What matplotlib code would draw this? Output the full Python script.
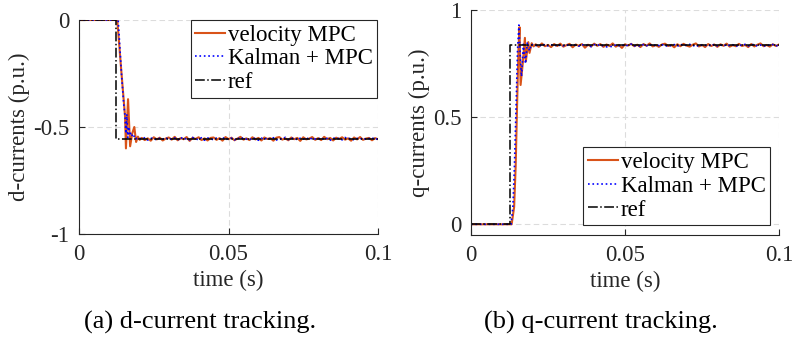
import numpy as np
import matplotlib
matplotlib.use("Agg")
import matplotlib.pyplot as plt

plt.rcParams['font.family'] = ['Liberation Serif', 'DejaVu Serif']
plt.rcParams['axes.unicode_minus'] = False

# ---------------- data ----------------
labels = ["velocity MPC", "Kalman + MPC", "ref"]

# d-current transient
t_dv = [0, 0.0128, 0.0141, 0.0154, 0.0157, 0.0164, 0.0171, 0.0178, 0.0185, 0.0191, 0.0197, 0.0203]
dv = [0, 0, -0.23, -0.45, -0.60, -0.37, -0.59, -0.53, -0.50, -0.57, -0.545, -0.56]
t_dk = [0, 0.0131, 0.0142, 0.0150, 0.0154, 0.0157, 0.0160, 0.0163, 0.0166, 0.0170, 0.0174, 0.0180, 0.0186, 0.0193, 0.0200]
dk = [0, 0, -0.25, -0.40, -0.45, -0.53, -0.44, -0.55, -0.50, -0.54, -0.525, -0.55, -0.54, -0.555, -0.55]
t_dref = [0, 0.0125, 0.0125, 0.1]
dref = [0, 0, -0.555, -0.555]
d_level = -0.555

# q-current transient
t_qv = [0, 0.0132, 0.0140, 0.0145, 0.0150, 0.0154, 0.01575, 0.0161, 0.0168, 0.0175, 0.0178, 0.0186, 0.0190, 0.0197, 0.0203]
qv = [0, 0, 0.08, 0.27, 0.58, 0.81, 0.92, 0.65, 0.75, 0.87, 0.76, 0.85, 0.80, 0.845, 0.83]
t_qk = [0, 0.0130, 0.0136, 0.0141, 0.0147, 0.0151, 0.01555, 0.0160, 0.0164, 0.0170, 0.0177, 0.0183, 0.0190, 0.0196, 0.0203]
qk = [0, 0, 0.08, 0.27, 0.58, 0.81, 0.93, 0.78, 0.69, 0.84, 0.75, 0.85, 0.81, 0.84, 0.835]
t_qref = [0, 0.0127, 0.0127, 0.1]
qref = [0, 0, 0.835, 0.835]
q_level = 0.835

# steady-state ripple (thousandths of p.u.), read as estimates from 0.021 s to 0.1 s
d_vel_ripple = [4, -6, 2, -9, 7, -3, 5, -8, 1, 6, -4, 9, -7, 3, -2, 8, -10, 5, -1, 7,
                -6, 2, -8, 4, 6, -5, 3, -9, 8, -2, 5, -7, 1, 9, -4, 2, -6, 7, -3, 4,
                -8, 6, -1, 3, -9, 5, 8, -4, 2, -7, 6, -2, 4, -10, 7, -3, 1, 8, -5, 3,
                -6, 9, -2, 4, -8, 5, -1, 7, -4, 2, -9, 6, -3, 8, -5, 1, 4, -7, 3, -2]
d_kal_ripple = [-3, 5, -6, 2, 4, -7, 3, -2, 6, -5, 1, 4, -6, 7, -3, 2, -5, 6, -1, -4,
                5, -7, 3, 2, -6, 4, -2, 7, -5, 1, 3, -6, 5, -3, 6, -2, -5, 4, 1, -7,
                3, -4, 6, -2, 5, -6, 2, -3, 7, -4, 1, 5, -6, 3, -2, 6, -5, 4, -1, -3,
                6, -4, 2, -7, 5, -2, 3, -5, 6, -1, 4, -6, 2, -3, 5, -4, 1, 6, -5, 2]
q_vel_ripple = [5, -7, 9, -4, 2, -8, 6, -3, 8, -6, 1, 7, -9, 4, -2, 6, -11, 3, -5, 8,
                -2, 6, -7, 4, -3, 9, -6, 2, -12, 5, -1, 7, -4, 3, -8, 6, -2, 9, -5, 1,
                -7, 4, 8, -3, 2, -9, 5, -4, 7, -1, -6, 3, 9, -5, 2, -8, 6, -3, 4, -7,
                5, -2, 8, -6, 1, -4, 7, -3, 2, -8, 6, -5, 3, 9, -4, 2, -6, 5, -3, 4]
q_kal_ripple = [-2, 4, -5, 6, -3, 1, 5, -6, 3, -2, 4, -5, 6, -1, -4, 5, -3, 2, -6, 4,
                -1, 5, -4, -7, -5, -6, 3, -2, 4, -5, 2, 6, -3, 1, -5, 4, -2, 6, -4, 3,
                -1, 5, -6, 2, -3, 4, -5, 6, -2, 1, 5, -4, 3, -6, 2, -1, 4, -5, 6, -3,
                2, -4, 5, -1, 3, -6, 4, -2, 5, -3, 1, 6, -4, 2, -5, 3, -1, 4, -3, 2]

# ---------------- figure ----------------
W, H = 792, 344
fig = plt.figure(figsize=(W / 100, H / 100), dpi=100)

ax1 = fig.add_axes([79 / W, (H - 234) / H, (378 - 79) / W, (234 - 20) / H])
ax2 = fig.add_axes([471 / W, (H - 235) / H, (779 - 471) / W, (235 - 10) / H])

c_vel = (0.85, 0.325, 0.098)
c_kal = (0.0, 0.0, 1.0)
c_ref = (0.0, 0.0, 0.0)
axcol = '#262626'
fs = 16.5
lfs = 16.5


def series(t_tr, v_tr, level, ripple):
    ts = np.linspace(0.021, 0.1, len(ripple))
    vs = level + np.asarray(ripple) / 1000.0
    return np.concatenate([t_tr, ts]), np.concatenate([v_tr, vs])


def style(ax):
    for s in ['top', 'right']:
        ax.spines[s].set_visible(False)
    for s in ['left', 'bottom']:
        ax.spines[s].set_color(axcol)
        ax.spines[s].set_linewidth(0.8)
    ax.grid(True, color='#dcdcdc', linestyle=(0, (5, 3)), linewidth=0.8)
    ax.set_axisbelow(True)
    ax.tick_params(direction='in', length=4, width=0.8, colors=axcol,
                   labelsize=fs, pad=7)
    ax.set_xlim(0, 0.1)
    ax.set_xticks([0, 0.05, 0.1])
    ax.set_xticklabels(['0', '0.05', '0.1'])
    ax.set_xlabel('time (s)', fontsize=fs, color=axcol, labelpad=4)


def legend(ax, loc, anchor):
    leg = ax.legend(loc=loc, bbox_to_anchor=anchor, fontsize=lfs,
                    frameon=True, fancybox=False, framealpha=1, edgecolor=axcol,
                    borderpad=0.2, labelspacing=0.12, handlelength=1.3,
                    handletextpad=0.12, borderaxespad=0)
    leg.get_frame().set_linewidth(0.8)
    return leg


# left: d-current
x, y = series(t_dv, dv, d_level, d_vel_ripple)
ax1.plot(x, y, color=c_vel, lw=1.5, label=labels[0])
x, y = series(t_dk, dk, d_level, d_kal_ripple)
ax1.plot(x, y, color=c_kal, lw=1.2, ls=':', label=labels[1])
ax1.plot(t_dref, dref, color=c_ref, lw=1.1, ls='-.', label=labels[2])
style(ax1)
ax1.set_ylim(-1, 0)
ax1.set_yticks([-1, -0.5, 0])
ax1.set_yticklabels(['-1', '-0.5', '0'])
ax1.set_ylabel('d-currents (p.u.)', fontsize=fs, color=axcol, labelpad=2)
legend(ax1, 'upper right', (0.997, 1.0))

# right: q-current
x, y = series(t_qv, qv, q_level, q_vel_ripple)
ax2.plot(x, y, color=c_vel, lw=1.5, label=labels[0])
x, y = series(t_qk, qk, q_level, q_kal_ripple)
ax2.plot(x, y, color=c_kal, lw=1.2, ls=':', label=labels[1])
ax2.plot(t_qref, qref, color=c_ref, lw=1.1, ls='-.', label=labels[2])
style(ax2)
ax2.set_ylim(-0.05, 1)
ax2.set_yticks([0, 0.5, 1])
ax2.set_yticklabels(['0', '0.5', '1'])
ax2.set_ylabel('q-currents (p.u.)', fontsize=fs, color=axcol, labelpad=2)
legend(ax2, 'lower right', (0.971, 0.044))

# captions
fig.text(200 / W, 1 - 322 / H, '(a) d-current tracking.', ha='center', va='center',
         fontsize=19, color='black')
fig.text(601 / W, 1 - 322 / H, '(b) q-current tracking.', ha='center', va='center',
         fontsize=19, color='black')

fig.savefig('out.png', dpi=100)
